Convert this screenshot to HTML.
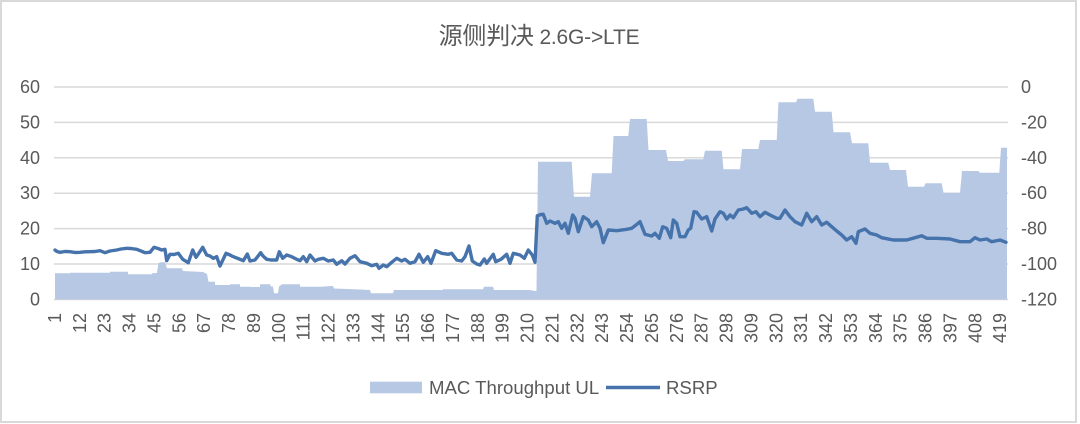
<!DOCTYPE html>
<html><head><meta charset="utf-8"><style>
html,body{margin:0;padding:0;background:#fff;}
svg{display:block;}
text{font-family:"Liberation Sans","Noto Sans CJK SC",sans-serif;fill:#595959;}
</style></head><body>
<svg width="1080" height="424" viewBox="0 0 1080 424" xmlns="http://www.w3.org/2000/svg">
<rect x="0" y="0" width="1080" height="424" fill="#fff"/>
<rect x="1" y="1" width="1075" height="421" fill="none" stroke="#d9d9d9" stroke-width="2"/>
<text x="539" y="44" text-anchor="middle" font-size="21" letter-spacing="-0.2"><tspan font-size="24" font-family="'Noto Sans CJK SC',sans-serif">源侧判决</tspan> 2.6G-&gt;LTE</text>
<g stroke="#d9d9d9" stroke-width="1.5">
<line x1="54" x2="1008" y1="87" y2="87"/>
<line x1="54" x2="1008" y1="122.4" y2="122.4"/>
<line x1="54" x2="1008" y1="157.8" y2="157.8"/>
<line x1="54" x2="1008" y1="193.2" y2="193.2"/>
<line x1="54" x2="1008" y1="228.6" y2="228.6"/>
<line x1="54" x2="1008" y1="264" y2="264"/>
<line x1="54" x2="1008" y1="299.5" y2="299.5"/>
</g>
<polygon fill="#b6c8e3" points="55,299.5 55,273.3 70,273.3 70,272.7 110,272.7 110,271.7 128,271.7 128,274.3 152,274.3 152,273.3 157,273 158.5,263 161,262.3 165,262.3 167,268.3 182,268.3 183,271 203,272 207,274 208.5,281.7 215,281.7 215,285 230,285 230,284.3 240,284.3 240,286.7 250,286.7 250,287 260,287 260,284.3 270,284.3 271,286.5 273,286.5 274,293.3 278,293.3 279,286.5 282,284.3 300,284.3 300,286.7 320,286.7 333,286 334,288.5 360,289.5 370,290 371,293.3 393,293.3 394,290 443,290 443,289.3 483,289.3 484,286.7 493,286.7 494,290 530,290 535,291 536.5,291 538,161.7 571.7,161.7 573.9,196.7 590,196.7 592,173.3 611.7,173.3 613.5,136 628.3,136 630,119 646.7,119 648.5,150 666,150 668,161 683.3,161 685,159.3 703.3,159.3 705,150.7 721.7,150.7 723.5,169.3 740,169.3 742,149 758.3,149 760,140 776.7,140 778.5,102.3 796,102.3 797.5,98.7 813.3,98.7 815,111.7 831.7,111.7 833.5,132.3 850,132.3 852,143.3 868.3,143.3 870,162.7 888.3,162.7 890,170 906,170 908,186.7 924,186.7 925.5,183.3 941.7,183.3 943.5,192.7 960,192.7 962,171 978.3,171 980,172.7 999.3,172.7 1001,147.7 1007,147.7 1007,299.5"/>
<polyline fill="none" stroke="#4673ab" stroke-width="3.4" stroke-linejoin="round" stroke-linecap="round" points="55,250 57,251.5 60,252.3 65,251.5 70,251.7 75,252.5 80,252.3 85,251.8 90,251.7 95,251.5 100,250.7 105,252.7 110,251 116.7,250 121,249 126.7,248.3 131,248.5 136.7,249.3 141,251 145,252.7 150,252.3 154,247.3 158,248.5 161.7,250 165,249.3 166.7,260.7 170,254.3 174,254.5 178.3,253.3 182.7,259.3 188.3,262.7 192.7,250 196,257.3 198.3,254 202.7,247.3 206.7,255 210,256 213.3,258.3 216.7,256.7 220,266 226,253.3 230,255 233.3,256.7 238,258.5 243.3,260.7 247.3,254 250,261 255,260 260.7,252.7 263,256 266.7,259.3 271,260 276.7,260 279.3,251.7 282.7,258.3 286.7,255 291.7,256.7 296.7,259.3 300,260.7 303.3,256.7 306.7,261.7 310,255 315,261 318.3,259.3 323.3,258.3 328.3,261 333.3,260 336.7,264.3 341.7,260.7 345,264 350,258.3 355,255.7 360,261.7 366.7,263.3 371.7,265.7 376.7,264.3 379,268.3 383.3,265 386.7,266.7 391.7,262.3 396.7,258.3 401.7,261 405,259.3 410,263.3 415,261.7 419,254.3 423.3,262.3 427.7,256.7 431,263.3 435.7,250.7 441.7,253.3 448.3,254.3 451.7,253.3 456.7,260 461.7,261 465,256.7 469,246 472.3,261 476.7,264 480,265 484.3,259 486.7,263.3 493.3,254.3 495.7,261.7 501,259.3 506.7,254.3 510,263.3 513.3,253.3 520,255 524.3,258.3 528.3,250 532.3,255 535,262.3 537.3,215.7 541,214.5 543.3,214.3 546.7,223.3 550,221 555,223.3 558.3,221.7 561.7,228.3 565,223.3 568.3,233.3 572.7,215 575,218.3 578.3,231.7 583.3,216.7 588.3,220 591.7,226.7 596.7,221.7 600,228.3 603.3,242.7 608.3,230 616.7,230.7 626.7,229.3 631.7,228.3 636,225 640,221.7 645,234.3 651.7,236 655,233.3 659.3,238.3 662.7,226.7 666.7,228.3 670.7,237.7 673.3,220 676.7,223.3 680,236.7 685,236.7 688.3,230 690.7,228.3 694,211.7 696.7,212.3 701.7,219 706.7,216.7 711.7,231 715,219 720,211.7 723.3,213.3 726.7,219 730,215 733.3,217.7 738.3,210 743.3,209 746.7,207.7 751.7,213.3 756,211.7 760,216.7 765,212.3 770,215 776.7,218.3 780,218.3 785,210 790,216.7 795,221.7 801.7,225 806.7,213.3 811.7,221.7 816.7,216.7 821.7,225 826.7,222.3 831.7,226.7 836.7,231 841.7,235 846.7,240 851.7,236.7 856,243.3 858.3,231.7 865,229 870,233.3 876.7,235 881.7,237.7 893.3,240 906.7,240 915,237.7 921.7,235.7 926.7,238.3 936.7,238.3 950,239 960,241.7 970,241.7 975,237.7 980,240 986.7,239 991.7,241.7 1000,240 1006,242.3"/>
<g font-size="18" text-anchor="end" dominant-baseline="central">
<text x="40" y="87">60</text>
<text x="40" y="122.4">50</text>
<text x="40" y="157.8">40</text>
<text x="40" y="193.2">30</text>
<text x="40" y="228.6">20</text>
<text x="40" y="264">10</text>
<text x="40" y="299.5">0</text>
</g>
<g font-size="18" text-anchor="start" dominant-baseline="central">
<text x="1021" y="87">0</text>
<text x="1021" y="122.4">-20</text>
<text x="1021" y="157.8">-40</text>
<text x="1021" y="193.2">-60</text>
<text x="1021" y="228.6">-80</text>
<text x="1021" y="264">-100</text>
<text x="1021" y="299.5">-120</text>
</g>
<g font-size="18" text-anchor="end" dominant-baseline="central">
<text transform="translate(55.0,313) rotate(-90)">1</text>
<text transform="translate(79.9,313) rotate(-90)">12</text>
<text transform="translate(104.7,313) rotate(-90)">23</text>
<text transform="translate(129.6,313) rotate(-90)">34</text>
<text transform="translate(154.5,313) rotate(-90)">45</text>
<text transform="translate(179.4,313) rotate(-90)">56</text>
<text transform="translate(204.2,313) rotate(-90)">67</text>
<text transform="translate(229.1,313) rotate(-90)">78</text>
<text transform="translate(254.0,313) rotate(-90)">89</text>
<text transform="translate(278.9,313) rotate(-90)">100</text>
<text transform="translate(303.7,313) rotate(-90)">111</text>
<text transform="translate(328.6,313) rotate(-90)">122</text>
<text transform="translate(353.5,313) rotate(-90)">133</text>
<text transform="translate(378.4,313) rotate(-90)">144</text>
<text transform="translate(403.2,313) rotate(-90)">155</text>
<text transform="translate(428.1,313) rotate(-90)">166</text>
<text transform="translate(453.0,313) rotate(-90)">177</text>
<text transform="translate(477.9,313) rotate(-90)">188</text>
<text transform="translate(502.7,313) rotate(-90)">199</text>
<text transform="translate(527.6,313) rotate(-90)">210</text>
<text transform="translate(552.5,313) rotate(-90)">221</text>
<text transform="translate(577.4,313) rotate(-90)">232</text>
<text transform="translate(602.2,313) rotate(-90)">243</text>
<text transform="translate(627.1,313) rotate(-90)">254</text>
<text transform="translate(652.0,313) rotate(-90)">265</text>
<text transform="translate(676.9,313) rotate(-90)">276</text>
<text transform="translate(701.7,313) rotate(-90)">287</text>
<text transform="translate(726.6,313) rotate(-90)">298</text>
<text transform="translate(751.5,313) rotate(-90)">309</text>
<text transform="translate(776.4,313) rotate(-90)">320</text>
<text transform="translate(801.2,313) rotate(-90)">331</text>
<text transform="translate(826.1,313) rotate(-90)">342</text>
<text transform="translate(851.0,313) rotate(-90)">353</text>
<text transform="translate(875.9,313) rotate(-90)">364</text>
<text transform="translate(900.7,313) rotate(-90)">375</text>
<text transform="translate(925.6,313) rotate(-90)">386</text>
<text transform="translate(950.5,313) rotate(-90)">397</text>
<text transform="translate(975.4,313) rotate(-90)">408</text>
<text transform="translate(1000.2,313) rotate(-90)">419</text>
</g>
<rect x="370" y="381.7" width="52" height="11.6" fill="#b6c8e3"/>
<text x="429" y="394" font-size="18.6">MAC Throughput UL</text>
<line x1="606" x2="660" y1="387.5" y2="387.5" stroke="#4673ab" stroke-width="3.4"/>
<text x="666" y="394" font-size="18.6">RSRP</text>
</svg>
</body></html>
